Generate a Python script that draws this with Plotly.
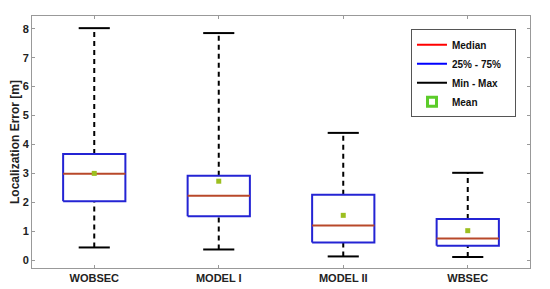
import plotly.graph_objects as go

categories = ["WOBSEC", "MODEL I", "MODEL II", "WBSEC"]
mins = [0.44, 0.37, 0.13, 0.11]
q1s = [2.04, 1.52, 0.61, 0.50]
medians = [2.99, 2.23, 1.20, 0.75]
q3s = [3.67, 2.92, 2.26, 1.42]
maxs = [8.02, 7.85, 4.40, 3.02]
means = [3.00, 2.73, 1.55, 1.02]

legend_labels = ["Median", "25% - 75%", "Min - Max", "Mean"]

BOX_HALF = 0.25
CAP_HALF = 0.125
pos = list(range(1, len(categories) + 1))

box_x, box_y = [], []
med_x, med_y = [], []
wh_x, wh_y = [], []
cap_x, cap_y = [], []
for p, lo, a, m, b, hi in zip(pos, mins, q1s, medians, q3s, maxs):
    box_x += [p - BOX_HALF, p + BOX_HALF, p + BOX_HALF, p - BOX_HALF, p - BOX_HALF, None]
    box_y += [a, a, b, b, a, None]
    med_x += [p - BOX_HALF, p + BOX_HALF, None]
    med_y += [m, m, None]
    wh_x += [p, p, None, p, p, None]
    wh_y += [b, hi, None, lo, a, None]
    cap_x += [p - CAP_HALF, p + CAP_HALF, None, p - CAP_HALF, p + CAP_HALF, None]
    cap_y += [hi, hi, None, lo, lo, None]

fig = go.Figure()
fig.add_trace(go.Scatter(x=wh_x, y=wh_y, mode="lines", showlegend=False,
                         line=dict(color="black", width=2, dash="5px,4px")))
fig.add_trace(go.Scatter(x=cap_x, y=cap_y, mode="lines", showlegend=False,
                         line=dict(color="black", width=2)))
fig.add_trace(go.Scatter(x=box_x, y=box_y, mode="lines", showlegend=False,
                         line=dict(color="#2424d4", width=2)))
fig.add_trace(go.Scatter(x=med_x, y=med_y, mode="lines", showlegend=False,
                         line=dict(color="#b8482a", width=2)))
fig.add_trace(go.Scatter(x=pos, y=means, mode="markers", showlegend=False,
                         marker=dict(symbol="square", size=5, color="#9cbf20")))

pad = "\u00a0\u00a0\u00a0"
# legend entries
fig.add_trace(go.Scatter(x=[None], y=[None], mode="lines", name=legend_labels[0] + pad,
                         line=dict(color="#ff0000", width=2)))
fig.add_trace(go.Scatter(x=[None], y=[None], mode="lines", name=legend_labels[1] + pad,
                         line=dict(color="#0000ff", width=2)))
fig.add_trace(go.Scatter(x=[None], y=[None], mode="lines", name=legend_labels[2] + pad,
                         line=dict(color="#000000", width=2)))
fig.add_trace(go.Scatter(x=[None], y=[None], mode="markers", name=legend_labels[3] + pad,
                         marker=dict(symbol="square-open", size=9, color="#5ccc2a",
                                     line=dict(width=3, color="#5ccc2a"))))

# the page body has an 8px default margin, so the figure is offset by 8px
font_family = "Liberation Sans, Arial, sans-serif"
fig.update_layout(
    width=542, height=281,
    margin=dict(l=24, r=20, t=8, b=21),
    paper_bgcolor="white", plot_bgcolor="white",
    font=dict(family=font_family, size=11, color="#222", weight="bold"),
    showlegend=True,
    legend=dict(x=0.761, y=0.947, xanchor="left", yanchor="top",
                bgcolor="white", bordercolor="#555", borderwidth=1,
                font=dict(size=10, weight="bold", color="#111"),
                itemwidth=30, tracegroupgap=0),
    xaxis=dict(range=[0.5, 4.5], tickvals=pos, ticktext=categories,
               showgrid=False, zeroline=False, showline=True, linecolor="#999",
               linewidth=1, mirror="ticks", ticks="inside", ticklen=3, automargin=False,
               tickcolor="#999", tickfont=dict(size=11, weight="bold", color="#222")),
    yaxis=dict(range=[-0.27, 8.44], tickvals=list(range(0, 9)),
               showgrid=False, zeroline=False, showline=True, linecolor="#999",
               linewidth=1, mirror="ticks", ticks="inside", ticklen=3, automargin=False,
               tickcolor="#999", tickfont=dict(size=11, weight="bold", color="#222"),
               title=dict(text="Localization Error [m]", standoff=3,
                          font=dict(size=12, weight="bold", color="#222"))),
)

fig.write_html("out.html")
